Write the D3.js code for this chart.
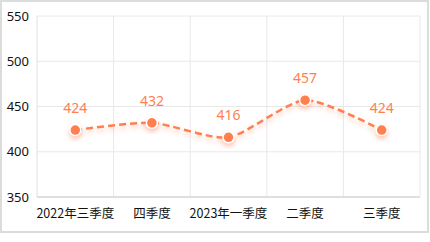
<!DOCTYPE html>
<html>
<head>
<meta charset="utf-8">
<script src="https://cdn.jsdelivr.net/npm/d3@7"></script>
<style>
  html, body { margin: 0; padding: 0; background: #fff; }
  svg { display: block; }
</style>
</head>
<body>
<svg id="chart" width="430" height="242"></svg>
<script>
const quarters = ["2022年三季度", "四季度", "2023年一季度", "二季度", "三季度"];
const values = [424, 432, 416, 457, 424];
const yTicks = [350, 400, 450, 500, 550];

const width = 430, height = 242;
const margin = { top: 16, right: 10, bottom: 45, left: 37 };
const color = "#ff7f50";

const svg = d3.select("#chart");

// outer frame
svg.append("rect")
  .attr("x", 1).attr("y", 1)
  .attr("width", 427).attr("height", 231)
  .attr("fill", "#fff")
  .attr("stroke", "#dcdcdc")
  .attr("stroke-width", 2);

const defs = svg.append("defs");
const shadow = defs.append("filter").attr("id", "shadow")
  .attr("x", "-50%").attr("y", "-50%").attr("width", "200%").attr("height", "200%");
shadow.append("feDropShadow")
  .attr("dx", 0).attr("dy", 3).attr("stdDeviation", 2.5)
  .attr("flood-color", color).attr("flood-opacity", 0.45);

const x = d3.scaleBand()
  .domain(quarters)
  .range([margin.left, 420]);

const y = d3.scaleLinear()
  .domain([350, 550])
  .range([197, margin.top]);

// horizontal grid
svg.append("g").selectAll("line")
  .data(yTicks)
  .enter().append("line")
  .attr("x1", margin.left).attr("x2", 420)
  .attr("y1", d => y(d)).attr("y2", d => y(d))
  .attr("stroke", "#e8e8e8");

// vertical grid
svg.append("g").selectAll("line")
  .data(quarters.slice(1).concat([null]))
  .enter().append("line")
  .attr("x1", (d, i) => margin.left + x.bandwidth() * (i + 1))
  .attr("x2", (d, i) => margin.left + x.bandwidth() * (i + 1))
  .attr("y1", margin.top).attr("y2", 197)
  .attr("stroke", "#e8e8e8");

// axis lines
svg.append("line")
  .attr("x1", margin.left).attr("x2", margin.left)
  .attr("y1", margin.top).attr("y2", 197)
  .attr("stroke", "#e0e0e0");
svg.append("line")
  .attr("x1", margin.left).attr("x2", 420)
  .attr("y1", 197).attr("y2", 197)
  .attr("stroke", "#d8d8d8").attr("stroke-width", 1.5);

// y labels
svg.append("g").selectAll("text")
  .data(yTicks)
  .enter().append("text")
  .attr("x", 29)
  .attr("y", d => y(d))
  .attr("dy", "0.35em")
  .attr("text-anchor", "end")
  .style("font-family", "'Noto Sans', 'DejaVu Sans', sans-serif")
  .style("font-size", "13px")
  .attr("fill", "#111")
  .text(d => d);

// x labels
svg.append("g").selectAll("text")
  .data(quarters)
  .enter().append("text")
  .attr("x", d => x(d) + x.bandwidth() / 2)
  .attr("y", 218)
  .attr("text-anchor", "middle")
  .style("font-family", "'Noto Sans CJK SC', sans-serif")
  .style("font-size", "12.5px")
  .attr("fill", "#111")
  .text(d => d);

// line
const line = d3.line()
  .x((d, i) => x(quarters[i]) + x.bandwidth() / 2)
  .y(d => y(d))
  .curve(d3.curveCardinal.tension(0.3));

svg.append("path")
  .datum(values)
  .attr("d", line)
  .attr("fill", "none")
  .attr("stroke", color)
  .attr("stroke-width", 2.5)
  .attr("stroke-dasharray", "7,4")
  .attr("filter", "url(#shadow)");

// points
svg.append("g").selectAll("circle")
  .data(values)
  .enter().append("circle")
  .attr("cx", (d, i) => x(quarters[i]) + x.bandwidth() / 2)
  .attr("cy", d => y(d))
  .attr("r", 5.5)
  .attr("fill", color)
  .attr("stroke", "#fff")
  .attr("stroke-width", 1.5)
  .attr("filter", "url(#shadow)");

// value labels
svg.append("g").selectAll("text")
  .data(values)
  .enter().append("text")
  .attr("x", (d, i) => x(quarters[i]) + x.bandwidth() / 2)
  .attr("y", d => y(d) - 17)
  .attr("text-anchor", "middle")
  .style("font-family", "'Noto Sans', 'DejaVu Sans', sans-serif")
  .style("font-size", "14px")
  .attr("fill", color)
  .text(d => d);
</script>
</body>
</html>
